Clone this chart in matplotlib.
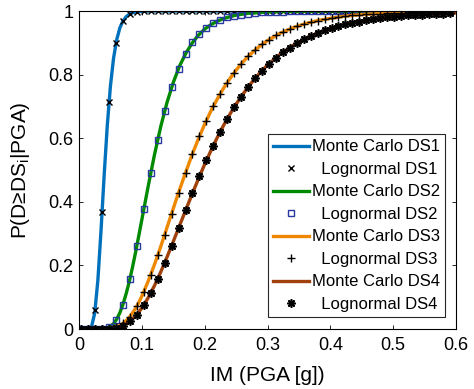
import numpy as np
import matplotlib
matplotlib.use("Agg")
import matplotlib.pyplot as plt

plt.rcParams["font.family"] = ["Liberation Sans", "DejaVu Sans"]
plt.rcParams["mathtext.fontset"] = "custom"
plt.rcParams["mathtext.rm"] = "Liberation Sans"

# IM grid of the Monte Carlo curves
im_line = np.r_[np.arange(0, 0.1001, 0.005), np.arange(0.11, 0.3001, 0.01), np.arange(0.32, 0.6001, 0.02)]
# IM values of the lognormal markers
im_pts = np.linspace(0.0035, 0.590, 54)

mc_ds1 = [0, 0, 0, 0, 0.008, 0.050, 0.153, 0.309, 0.483, 0.640, 0.764, 0.852, 0.910, 0.947, 0.969,
          0.982, 0.990, 0.994, 0.997, 0.998, 0.999] + [1.0] * 35
mc_ds2 = [0, 0, 0, 0, 0, 0, 0, 0, 0.001, 0.004, 0.009, 0.017, 0.031, 0.051, 0.078, 0.111, 0.149,
          0.193, 0.241, 0.292, 0.344,
          0.448, 0.547, 0.636, 0.712, 0.775, 0.827, 0.867, 0.899, 0.924, 0.943, 0.957, 0.968, 0.976,
          0.982, 0.987, 0.990, 0.993, 0.994, 0.996, 0.997,
          0.998, 0.999, 0.999] + [1.0] * 12
mc_ds3 = [0, 0, 0, 0, 0, 0, 0, 0, 0, 0.001, 0.002, 0.004, 0.007, 0.011, 0.018, 0.026, 0.037,
          0.050, 0.065, 0.083, 0.103,
          0.150, 0.202, 0.259, 0.319, 0.379, 0.438, 0.494, 0.548, 0.598, 0.644, 0.686, 0.723, 0.757,
          0.787, 0.814, 0.838, 0.859, 0.877, 0.893, 0.907,
          0.930, 0.947, 0.960, 0.970, 0.977, 0.983, 0.987, 0.990, 0.992, 0.994, 0.996, 0.997, 0.997,
          0.998, 0.998]
mc_ds4 = [0, 0, 0, 0, 0, 0, 0, 0, 0, 0, 0.001, 0.002, 0.004, 0.007, 0.011, 0.016, 0.022,
          0.031, 0.041, 0.053, 0.066,
          0.098, 0.136, 0.179, 0.226, 0.275, 0.325, 0.375, 0.424, 0.472, 0.518, 0.561, 0.602, 0.640,
          0.675, 0.707, 0.736, 0.763, 0.788, 0.810, 0.830,
          0.864, 0.891, 0.913, 0.931, 0.945, 0.956, 0.965, 0.972, 0.977, 0.982, 0.985, 0.988, 0.991,
          0.992, 0.994]

ln_ds1 = [0, 0, 0.059, 0.368, 0.713, 0.899, 0.969, 0.991, 0.997, 0.999] + [1.0] * 44
ln_ds2 = [0, 0, 0, 0.001, 0.006, 0.028, 0.077, 0.157, 0.261, 0.376, 0.491, 0.595, 0.685, 0.760,
          0.819, 0.866, 0.901, 0.927, 0.947, 0.962, 0.972, 0.980, 0.985, 0.989, 0.992, 0.994,
          0.996, 0.997, 0.998, 0.998, 0.999, 0.999, 0.999] + [1.0] * 21
ln_ds3 = [0, 0, 0, 0, 0.001, 0.006, 0.018, 0.039, 0.072, 0.117, 0.171, 0.232, 0.297, 0.363, 0.429,
          0.492, 0.551, 0.606, 0.655, 0.700, 0.740, 0.775, 0.806, 0.833, 0.857, 0.877, 0.895,
          0.910, 0.923, 0.934, 0.944, 0.952, 0.959, 0.965, 0.970, 0.974, 0.978, 0.981, 0.984,
          0.986, 0.988, 0.990, 0.991, 0.992, 0.993, 0.994, 0.995, 0.996, 0.996, 0.997, 0.997,
          0.998, 0.998, 0.998]
ln_ds4 = [0, 0, 0, 0, 0.001, 0.004, 0.011, 0.024, 0.045, 0.075, 0.113, 0.158, 0.208, 0.262, 0.317,
          0.373, 0.427, 0.480, 0.530, 0.577, 0.621, 0.661, 0.697, 0.731, 0.761, 0.788, 0.812,
          0.834, 0.853, 0.870, 0.885, 0.899, 0.911, 0.921, 0.931, 0.939, 0.946, 0.952, 0.958,
          0.963, 0.967, 0.971, 0.974, 0.977, 0.980, 0.982, 0.984, 0.986, 0.988, 0.989, 0.990,
          0.991, 0.992, 0.993]

mc_curves = [mc_ds1, mc_ds2, mc_ds3, mc_ds4]
ln_curves = [ln_ds1, ln_ds2, ln_ds3, ln_ds4]
line_colors = ["#0072BD", "#008A00", "#EE8800", "#A0400A"]
marker_styles = [dict(marker="x", ms=4.2, mec="k", mew=1.0, mfc="none"),
                 dict(marker="s", ms=4.6, mec="#2838A0", mew=1.0, mfc="none"),
                 dict(marker="+", ms=6, mec="k", mew=1.0),
                 dict(marker=(8, 2, 0), ms=6, mec="k", mew=1.2)]

fig, ax = plt.subplots(figsize=(4.74, 3.89), dpi=100)
fig.subplots_adjust(left=0.1667, right=0.962, bottom=0.1542, top=0.9717)

for i in range(4):
    ax.plot(im_line, mc_curves[i], color=line_colors[i], lw=2.4, label="Monte Carlo DS%d" % (i + 1))
    ax.plot(im_pts, ln_curves[i], ls="none", label="  Lognormal DS%d" % (i + 1), **marker_styles[i])

ax.set_xlim(0, 0.6)
ax.set_ylim(0, 1)
ax.set_xticks(np.arange(0, 0.61, 0.1))
ax.set_xticklabels(["0", "0.1", "0.2", "0.3", "0.4", "0.5", "0.6"])
ax.set_yticks(np.arange(0, 1.01, 0.2))
ax.set_yticklabels(["0", "0.2", "0.4", "0.6", "0.8", "1"])
ax.tick_params(direction="in", top=True, right=True, length=2.9, width=0.6, labelsize=13)
ax.tick_params(axis="x", pad=6)
ax.tick_params(axis="y", pad=4)
ax.set_xlabel("IM (PGA [g])", fontsize=15)
ax.set_ylabel("P(D≥DS$_\\mathregular{i}$|PGA)", fontsize=15)
ax.xaxis.set_label_coords(0.5, -0.117)
ax.yaxis.set_label_coords(-0.124, 0.5)

leg = ax.legend(loc="lower right", bbox_to_anchor=(0.971, 0.038), borderaxespad=0,
                fontsize=12, fancybox=False, framealpha=1, edgecolor="#262626",
                handlelength=2.2, handletextpad=0.15, labelspacing=0.45, borderpad=0.3)
leg.get_frame().set_linewidth(0.8)

fig.savefig("out.png", dpi=100)
